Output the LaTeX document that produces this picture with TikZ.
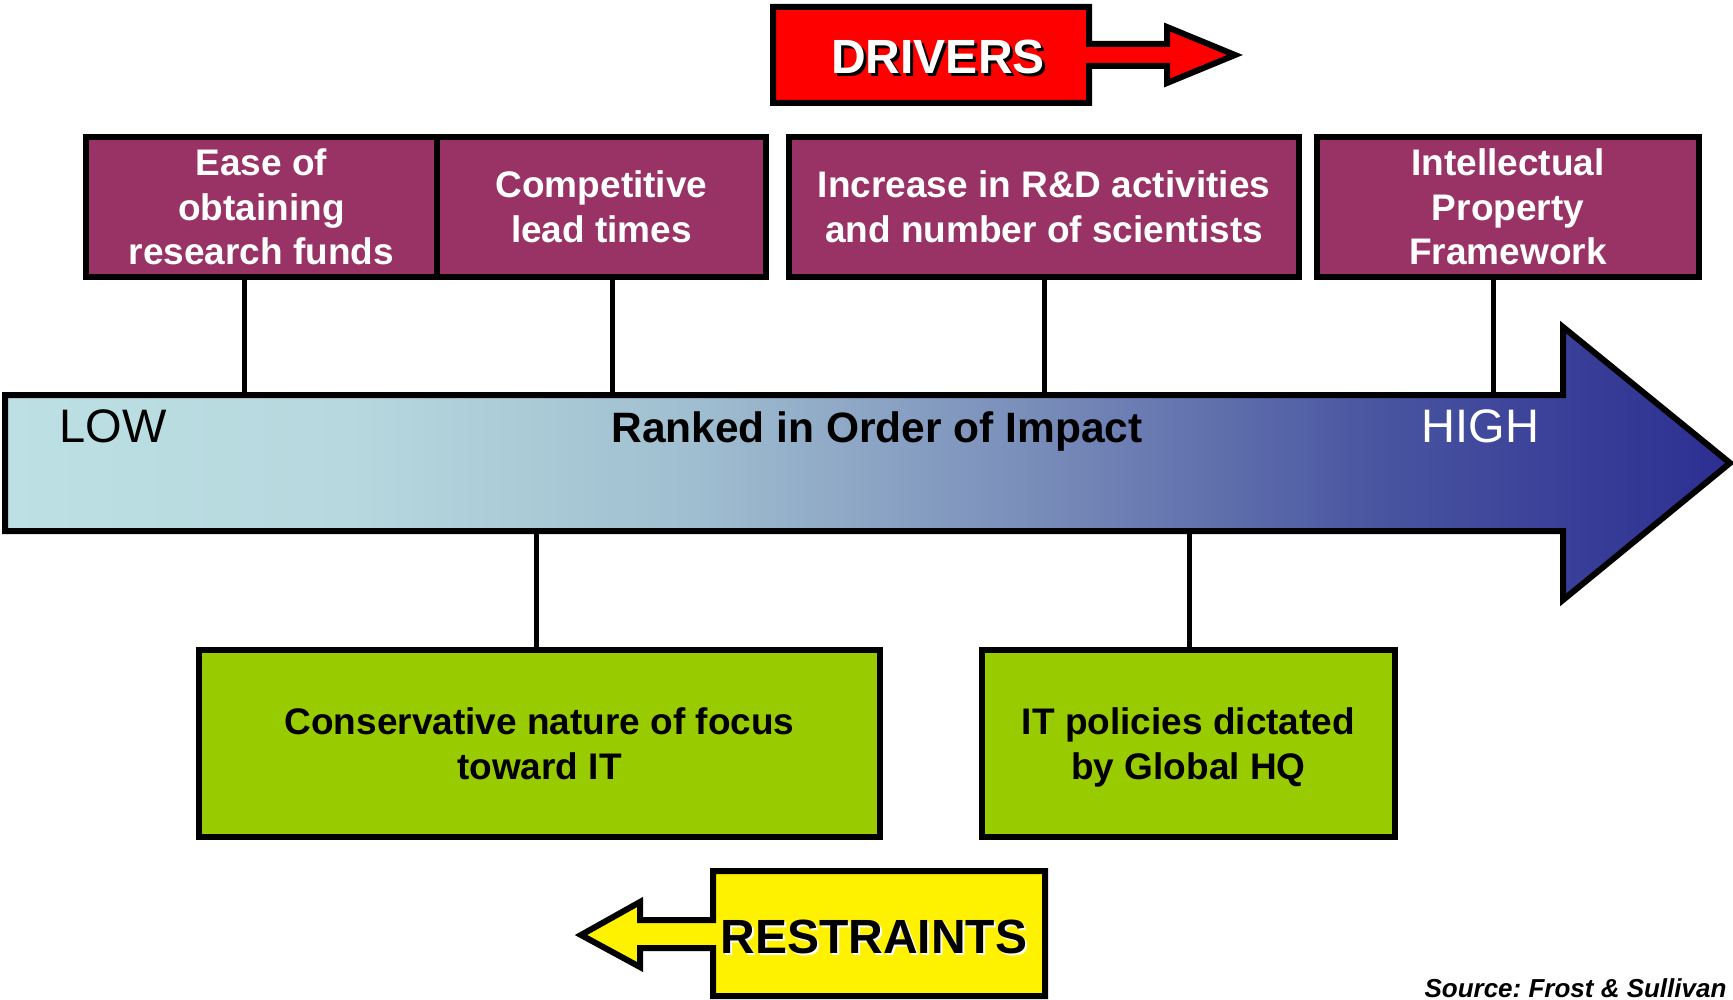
\documentclass[tikz,border=0pt]{standalone}
\usepackage{fontspec}
\setmainfont{Liberation Sans}
\usepackage{xcolor}
\frenchspacing

\definecolor{plum}{RGB}{153,51,102}
\definecolor{lime}{RGB}{153,204,0}
\definecolor{lowend}{RGB}{188,224,228}
\definecolor{impa}{RGB}{182,216,222}
\definecolor{impb}{RGB}{160,190,208}
\definecolor{impc}{RGB}{120,140,185}
\definecolor{impd}{RGB}{72,84,160}
\definecolor{highend}{RGB}{44,46,145}
\pgfdeclarehorizontalshading{impact}{100bp}{color(0bp)=(lowend); color(25bp)=(lowend);
  color(35bp)=(impa); color(45bp)=(impb); color(55bp)=(impc); color(65bp)=(impd);
  color(75bp)=(highend); color(100bp)=(highend)}

\newcommand{\boxfont}{\fontsize{37}{44.5}\selectfont\bfseries}
\newcommand{\bigfont}{\fontsize{48}{56}\selectfont\bfseries}

\begin{document}
\begin{tikzpicture}[x=1pt,y=-1pt,
    driver/.style={draw,line width=6pt,fill=plum,text=white,inner sep=0pt,
                   minimum height=140pt,align=center,font=\boxfont},
    restraint/.style={draw,line width=6pt,fill=lime,text=black,inner sep=0pt,
                   minimum height=187pt,text depth=0pt,align=center,font=\boxfont},
    link/.style={line width=5pt}]
    \useasboundingbox (0,0) rectangle (1733,1000);

    % impact axis
    \shade[shading=impact,draw,line width=6pt,line join=miter]
        (5,395) -- (1563,395) -- (1563,327) -- (1730,463) -- (1563,600)
        -- (1563,531) -- (5,531) -- cycle;
    \node[anchor=base west,font=\fontsize{47}{56}\selectfont] (low) at (56,442) {LOW};
    \node[anchor=base west,font=\fontsize{47}{56}\selectfont,text=white] (high) at (1418,442) {HIGH};
    \node[anchor=base,font=\fontsize{42.5}{50}\selectfont\bfseries] (rank) at (877,442) {Ranked in Order of Impact};

    % drivers
    \node[driver,minimum width=351pt] (ease) at (261.5,207) {Ease of\\obtaining\\research funds};
    \node[driver,minimum width=329pt] (lead) at (601.5,207) {Competitive\\lead times};
    \node[driver,minimum width=510pt] (rnd) at (1044,207) {Increase in R\&D activities\\and number of scientists};
    \node[driver,minimum width=382pt] (ipf) at (1508,207) {Intellectual\\Property\\Framework};

    \foreach \n/\x in {ease/244, lead/612, rnd/1044, ipf/1493} {
        \coordinate (top\n) at (\x,393);
        \draw[link] (\n.south -| top\n) -- (top\n);
    }

    % restraints
    \node[restraint,minimum width=681pt] (conserv) at (539.5,743.5) {Conservative nature of focus\\toward IT};
    \node[restraint,minimum width=413pt] (itpol) at (1188.5,743.5) {IT policies dictated\\by Global HQ};

    \foreach \n/\x in {conserv/536, itpol/1189} {
        \coordinate (bot\n) at (\x,533);
        \draw[link] (bot\n) -- (bot\n |- \n.north);
    }

    % headings
    \draw[line width=6pt,fill=red,line join=miter]
        (773,7) -- (1089,7) -- (1089,44) -- (1167,44) -- (1167,27) -- (1235,55)
        -- (1167,83) -- (1167,66) -- (1089,66) -- (1089,103) -- (773,103) -- cycle;
    \node[font=\bigfont,text=black] (drivers shadow) at (941,60) {DRIVERS};
    \node[font=\bigfont,text=white] (drivers) at (938,57) {DRIVERS};

    \draw[line width=6pt,fill=yellow,line join=miter]
        (713,871) -- (1045,871) -- (1045,996) -- (713,996) -- (713,948) -- (640,948)
        -- (640,967) -- (581,935) -- (640,902) -- (640,920) -- (713,920) -- cycle;
    \node[font=\bigfont,text=white] (restraints shadow) at (876,939) {RESTRAINTS};
    \node[font=\bigfont,text=black] (restraints) at (874,937) {RESTRAINTS};

    \node[anchor=base east,font=\fontsize{26}{30}\selectfont\bfseries\itshape] (source) at (1730,997) {Source: Frost \& Sullivan};
\end{tikzpicture}
\end{document}
